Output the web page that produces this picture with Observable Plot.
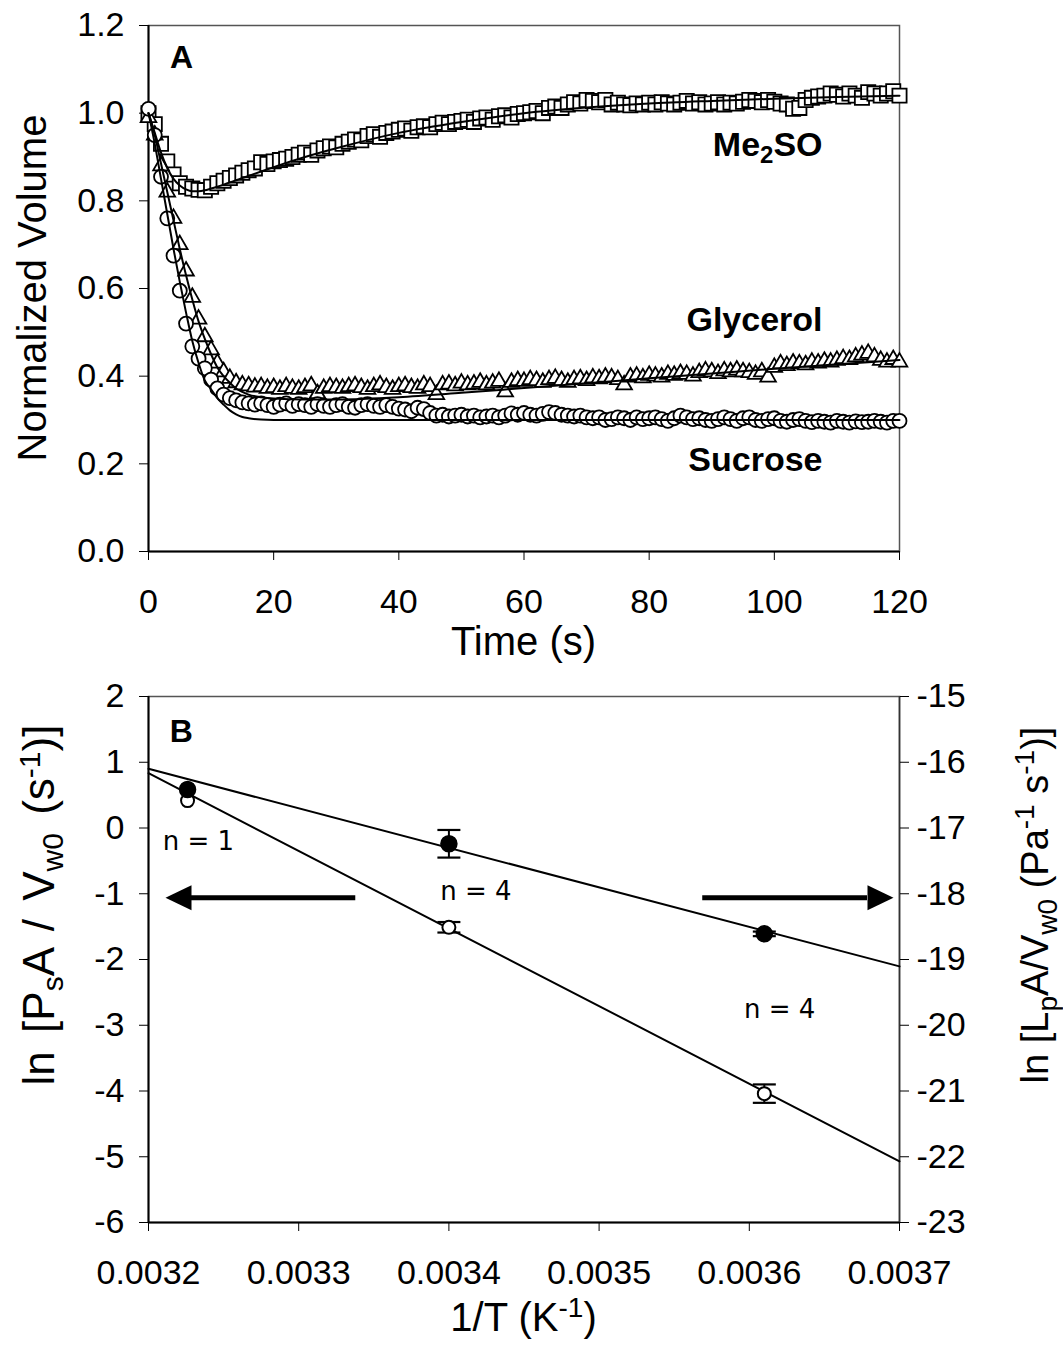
<!DOCTYPE html>
<html><head><meta charset="utf-8">
<script src="https://cdn.jsdelivr.net/npm/d3@7"></script>
<script src="https://cdn.jsdelivr.net/npm/@observablehq/plot@0.6"></script>
<style>
body{margin:0;background:#fff;}
#chart svg{display:block;}
</style>
</head><body><div id="chart"></div>
<script>
// ---------------- Panel A data ----------------
const timeA = [0,1,2,3,4,5,6,7,8,9,10,11,12,13,14,15,16,17,18,19,20,21,22,23,24,25,26,27,28,29,30,31,32,33,34,35,36,37,38,39,40,41,42,43,44,45,46,47,48,49,50,51,52,53,54,55,56,57,58,59,60,61,62,63,64,65,66,67,68,69,70,71,72,73,74,75,76,77,78,79,80,81,82,83,84,85,86,87,88,89,90,91,92,93,94,95,96,97,98,99,100,101,102,103,104,105,106,107,108,109,110,111,112,113,114,115,116,117,118,119,120];
const me2so = [1.00,0.975,0.93,0.89,0.86,0.84,0.832,0.828,0.825,0.824,0.832,0.84,0.846,0.852,0.858,0.864,0.87,0.874,0.888,0.884,0.89,0.893,0.896,0.9,0.905,0.91,0.905,0.915,0.92,0.924,0.922,0.93,0.935,0.94,0.938,0.948,0.952,0.946,0.955,0.958,0.962,0.965,0.96,0.968,0.97,0.968,0.975,0.978,0.975,0.98,0.982,0.985,0.98,0.988,0.99,0.985,0.993,0.995,0.99,0.998,1.0,1.002,1.005,1.0,1.012,1.015,1.012,1.02,1.025,1.022,1.03,1.028,1.025,1.03,1.02,1.024,1.02,1.018,1.022,1.02,1.024,1.02,1.025,1.022,1.02,1.024,1.028,1.022,1.025,1.02,1.022,1.025,1.02,1.024,1.022,1.026,1.03,1.028,1.025,1.03,1.026,1.022,1.02,1.01,1.012,1.03,1.035,1.038,1.04,1.045,1.042,1.038,1.045,1.04,1.035,1.048,1.045,1.04,1.045,1.05,1.04];
const glycerol = [0.99,0.95,0.88,0.82,0.76,0.70,0.64,0.58,0.53,0.49,0.46,0.43,0.41,0.395,0.385,0.38,0.378,0.375,0.376,0.372,0.374,0.37,0.376,0.372,0.37,0.374,0.378,0.36,0.372,0.376,0.374,0.372,0.376,0.378,0.374,0.37,0.376,0.38,0.374,0.37,0.376,0.378,0.374,0.372,0.38,0.376,0.358,0.38,0.382,0.378,0.384,0.38,0.382,0.386,0.38,0.384,0.388,0.364,0.386,0.39,0.388,0.392,0.39,0.386,0.392,0.395,0.39,0.386,0.392,0.394,0.39,0.396,0.394,0.398,0.396,0.392,0.38,0.398,0.4,0.396,0.402,0.4,0.398,0.404,0.402,0.406,0.404,0.4,0.408,0.412,0.41,0.406,0.412,0.41,0.414,0.41,0.408,0.404,0.41,0.398,0.42,0.428,0.424,0.43,0.428,0.426,0.432,0.43,0.434,0.432,0.436,0.44,0.438,0.444,0.448,0.452,0.444,0.436,0.432,0.438,0.432];
const sucrose = [1.01,0.95,0.855,0.76,0.675,0.595,0.52,0.468,0.44,0.418,0.392,0.372,0.358,0.35,0.345,0.34,0.338,0.335,0.338,0.334,0.33,0.335,0.338,0.332,0.336,0.334,0.33,0.336,0.332,0.33,0.334,0.336,0.33,0.328,0.334,0.336,0.332,0.33,0.334,0.33,0.326,0.324,0.32,0.328,0.325,0.316,0.31,0.312,0.308,0.31,0.312,0.308,0.31,0.306,0.308,0.31,0.306,0.31,0.315,0.312,0.316,0.312,0.31,0.314,0.318,0.316,0.312,0.31,0.308,0.31,0.306,0.304,0.306,0.3,0.302,0.306,0.304,0.3,0.306,0.302,0.304,0.306,0.302,0.298,0.304,0.31,0.306,0.302,0.304,0.3,0.298,0.302,0.306,0.302,0.298,0.304,0.306,0.3,0.298,0.302,0.304,0.298,0.296,0.3,0.302,0.298,0.295,0.298,0.296,0.294,0.298,0.296,0.294,0.297,0.295,0.296,0.298,0.296,0.294,0.298,0.298];
// model fits
const fitTime = [0,1,2,3,4,5,6,7,8,9,10,11,12,13,14,15,16,18,20,25,30,40,50,60,70,80,90,100,110,120];
const fitMe2so = [1.0,0.955,0.91,0.875,0.85,0.835,0.826,0.822,0.822,0.824,0.828,0.832,0.837,0.842,0.847,0.852,0.857,0.867,0.877,0.9,0.92,0.955,0.98,1.0,1.013,1.022,1.028,1.033,1.037,1.04];
const fitGlycerol = [1.0,0.95,0.885,0.82,0.755,0.69,0.63,0.575,0.525,0.485,0.45,0.42,0.4,0.385,0.372,0.364,0.358,0.352,0.349,0.347,0.347,0.352,0.362,0.373,0.384,0.395,0.406,0.417,0.427,0.437];
const fitSucrose = [1.0,0.93,0.85,0.77,0.69,0.615,0.545,0.48,0.43,0.39,0.37,0.35,0.335,0.322,0.313,0.307,0.304,0.301,0.3,0.3,0.3,0.3,0.3,0.3,0.3,0.3,0.3,0.3,0.3,0.3];
const xTicksA = [0,20,40,60,80,100,120];
const yTicksA = [0,0.2,0.4,0.6,0.8,1.0,1.2];
const seriesNames = ["Me2SO","Glycerol","Sucrose"];
const seriesLabelT = [107.7,107.7,107.7];
const seriesLabelV = [0.926,0.527,0.208];
const panelAX = [5.3], panelAY = [1.127];

// ---------------- Panel B data ----------------
const invT = [0.003226, 0.0034, 0.00361];
const lnLp = [-16.415, -17.24, -18.61];        // right axis, filled
const lnLpErr = [0, 0.21, 0.035];
const lnPs = [0.417, -1.51, -4.04];             // left axis, open
const lnPsErr = [0, 0.08, 0.14];
const fitX = [0.0032, 0.0037];
const fitLp = [-16.10, -19.105];
const fitPs = [0.833, -5.07];
const rightOffset = -17; // right = left + rightOffset
const xTicksB = [0.0032,0.0033,0.0034,0.0035,0.0036,0.0037];
const yTicksB = [-6,-5,-4,-3,-2,-1,0,1,2];
const nLabels = ["n = 1","n = 4","n = 4"];
const nX = [0.0032332, 0.003418, 0.0036202];
const nY = [-0.207, -0.968, -2.764];
const arrowY = [-1.06, -1.06];
const arrowTail = [0.003338, 0.003569];
const arrowBase = [0.0032286, 0.0036787];
const arrowTip = [0.0032113, 0.003696];
const arrowRot = [180, 0];
const panelBX = [0.0032219], panelBY = [1.467];

// ---------------- build ----------------
const font = "'Liberation Sans', Arial, Helvetica, sans-serif";
const W = 1063;
const ptsA = (name, vals) => timeA.map((t,i)=>({t, v: vals[i], s: name}));
const fitsA = [["Me2SO",fitMe2so],["Glycerol",fitGlycerol],["Sucrose",fitSucrose]]
  .flatMap(([s,arr]) => fitTime.map((t,i)=>({t, v: arr[i], s})));

const plotA = Plot.plot({
  width: W, height: 671,
  marginTop: 25, marginBottom: 120, marginLeft: 148, marginRight: 164,
  style: {fontFamily: font, fontSize: "34px", color: "#000", background: "#fff"},
  x: {domain: [0,120]},
  y: {domain: [0,1.2]},
  marks: [
    Plot.frame({stroke: "#555", strokeWidth: 1.5}),
    Plot.ruleX([0], {stroke: "#000", strokeWidth: 2}),
    Plot.ruleY([0], {stroke: "#000", strokeWidth: 2}),
    Plot.axisX({ticks: xTicksA, tickSize: 9, tickPadding: 28, tickFormat: d => String(d), label: null}),
    Plot.axisY({ticks: yTicksA, tickSize: 9, tickPadding: 15, tickFormat: d => d.toFixed(1), label: null}),
    Plot.dot(ptsA("Me2SO", me2so), {x: "t", y: "v", symbol: "square", r: 8, fill: "white", stroke: "black", strokeWidth: 1.8}),
    Plot.dot(ptsA("Glycerol", glycerol), {x: "t", y: "v", symbol: "triangle", r: 5.8, fill: "white", stroke: "black", strokeWidth: 1.8}),
    Plot.dot(ptsA("Sucrose", sucrose), {x: "t", y: "v", symbol: "circle", r: 7, fill: "white", stroke: "black", strokeWidth: 1.8}),
    Plot.line(fitsA, {x: "t", y: "v", z: "s", curve: "monotone-x", stroke: "black", strokeWidth: 2}),
    Plot.text(seriesNames, {x: (d,i)=>seriesLabelT[i], y: (d,i)=>seriesLabelV[i], text: d=>d, textAnchor: "end", fontSize: 34, fontWeight: "bold", fill: "#000"}),
    Plot.text(["A"], {x: (d,i)=>panelAX[i], y: (d,i)=>panelAY[i], text: d=>d, fontSize: 32, fontWeight: "bold", fill: "#000"})
  ]
});

const filled = invT.map((x,i)=>({x, v: lnLp[i] - rightOffset, e: lnLpErr[i]}));
const open = invT.map((x,i)=>({x, v: lnPs[i], e: lnPsErr[i]}));
const fitsB = [
  ...fitX.map((x,i)=>({x, v: fitLp[i] - rightOffset, s: "Lp"})),
  ...fitX.map((x,i)=>({x, v: fitPs[i], s: "Ps"}))
];
const errs = [...filled, ...open].filter(d => d.e > 0);
const capSymbol = {draw(ctx){ ctx.moveTo(-11.5,0); ctx.lineTo(11.5,0); }};
const headSymbol = {draw(ctx){ ctx.moveTo(0,0); ctx.lineTo(-26,-12.5); ctx.lineTo(-26,12.5); ctx.closePath(); }};
const arrows = arrowY.map((y,i)=>({y, tail: arrowTail[i], base: arrowBase[i], tip: arrowTip[i], rot: arrowRot[i]}));
const nData = nLabels.map((t,i)=>({t, x: nX[i], y: nY[i]}));

const plotB = Plot.plot({
  width: W, height: 689,
  marginTop: 25, marginBottom: 138, marginLeft: 148, marginRight: 164,
  style: {fontFamily: font, fontSize: "34px", color: "#000", background: "#fff"},
  x: {domain: [0.0032, 0.0037]},
  y: {domain: [-6, 2]},
  marks: [
    Plot.frame({stroke: "#555", strokeWidth: 1.5}),
    Plot.ruleX([0.0032], {stroke: "#000", strokeWidth: 2}),
    Plot.ruleX([0.0037], {stroke: "#333", strokeWidth: 1.6}),
    Plot.ruleY([-6], {stroke: "#000", strokeWidth: 2}),
    Plot.axisX({ticks: xTicksB, tickSize: 9, tickPadding: 28, tickFormat: d => d.toFixed(4), label: null}),
    Plot.axisY({ticks: yTicksB, tickSize: 9, tickPadding: 15, tickFormat: d => String(d), label: null}),
    Plot.axisY({anchor: "right", ticks: yTicksB, tickSize: 9, tickPadding: 8, tickFormat: d => String(d + rightOffset), label: null}),
    Plot.line(fitsB, {x: "x", y: "v", z: "s", stroke: "black", strokeWidth: 2}),
    Plot.ruleX(errs, {x: "x", y1: d => d.v - d.e, y2: d => d.v + d.e, stroke: "black", strokeWidth: 2}),
    Plot.dot(errs, {x: "x", y: d => d.v - d.e, symbol: capSymbol, fill: "none", stroke: "black", strokeWidth: 2.2}),
    Plot.dot(errs, {x: "x", y: d => d.v + d.e, symbol: capSymbol, fill: "none", stroke: "black", strokeWidth: 2.2}),
    Plot.dot(open, {x: "x", y: "v", r: 6.5, fill: "white", stroke: "black", strokeWidth: 2}),
    Plot.dot(filled, {x: "x", y: "v", r: 8, fill: "black", stroke: "black"}),
    Plot.ruleY(arrows, {y: "y", x1: "tail", x2: "base", stroke: "black", strokeWidth: 5}),
    Plot.dot(arrows, {x: "tip", y: "y", symbol: headSymbol, rotate: "rot", fill: "black", stroke: "none"}),
    Plot.text(nData, {x: "x", y: "y", text: "t", fontFamily: "'DejaVu Sans', Verdana, sans-serif", fontSize: 26, fill: "#000"}),
    Plot.text(["B"], {x: (d,i)=>panelBX[i], y: (d,i)=>panelBY[i], text: d=>d, fontSize: 32, fontWeight: "bold", fill: "#000"})
  ]
});

const root = document.getElementById("chart");
root.appendChild(plotA);
root.appendChild(plotB);

// subscript in Me2SO
d3.select(plotA).selectAll("text").filter(function(){ return this.textContent === "Me2SO"; })
  .html('Me<tspan font-size="24" dy="7">2</tspan><tspan dy="-7">SO</tspan>');

function addTitle(svg, x, y, rot, html, size, extra){
  const t = d3.select(svg).append("text")
    .attr("transform", `translate(${x},${y})` + (rot ? ` rotate(${rot})` : ""))
    .attr("text-anchor", "middle")
    .attr("font-family", font)
    .attr("font-size", size)
    .attr("fill", "#000");
  if (extra) t.attr("word-spacing", extra);
  t.html(html);
}
const sub = (t, s=28) => `<tspan font-size="${s}" dy="9">${t}</tspan>`;
const sup = (t, s=28) => `<tspan font-size="${s}" dy="-14">${t}</tspan>`;
addTitle(plotA, 523.5, 655, 0, "Time (s)", 40);
addTitle(plotA, 46, 288, -90, "Normalized Volume", 40);
addTitle(plotB, 523.5, 660, 0, `1/T (K${sup("-1")}<tspan dy="14">)</tspan>`, 40);
addTitle(plotB, 54, 234, -90,
  `ln [P${sub("s",30)}<tspan dy="-9">A / V</tspan>${sub("w0",30)}<tspan dy="-9"> (s</tspan>${sup("-1",30)}<tspan dy="14">)]</tspan>`, 44, 6);
addTitle(plotB, 1048, 234, -90,
  `ln [L${sub("p")}<tspan dy="-9">A/V</tspan>${sub("w0")}<tspan dy="-9"> (Pa</tspan>${sup("-1")}<tspan dy="14"> s</tspan>${sup("-1")}<tspan dy="14">)]</tspan>`, 38);
</script>
</body></html>
